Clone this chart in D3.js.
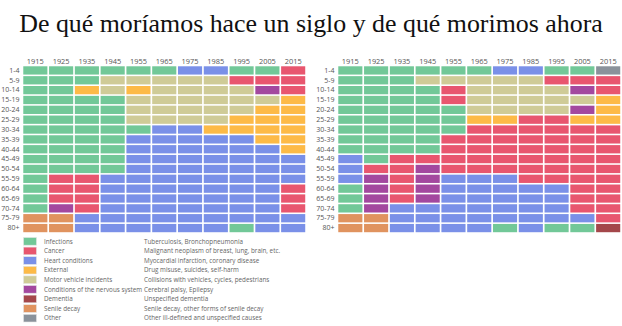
<!DOCTYPE html>
<html>
<head>
<meta charset="utf-8">
<script src="https://cdn.jsdelivr.net/npm/d3@7/dist/d3.min.js"></script>
<style>
  html, body { margin: 0; padding: 0; background: #fff; }
  svg { display: block; }
  .axis text { font-family: "Open Sans", sans-serif; fill: #555; }
  .axis path, .axis line { display: none; }
</style>
</head>
<body>
<svg id="chart" width="622" height="326"></svg>
<script>
// ---- DATA ----
const title = "De qué moríamos hace un siglo y de qué morimos ahora";
const years = ["1915","1925","1935","1945","1955","1965","1975","1985","1995","2005","2015"];
const ages = ["1-4","5-9","10-14","15-19","20-24","25-29","30-34","35-39","40-44","45-49","50-54","55-59","60-64","65-69","70-74","75-79","80+"];
const causeCodes = ["I","C","H","E","M","N","D","S","O"];
const causeNames = ["Infections","Cancer","Heart conditions","External","Motor vehicle incidents","Conditions of the nervous system","Dementia","Senile decay","Other"];
const causeDescriptions = ["Tuberculosis, Bronchopneumonia","Malignant neoplasm of breast, lung, brain, etc.","Myocardial infarction, coronary disease","Drug misuse, suicides, self-harm","Collisions with vehicles, cycles, pedestrians","Cerebral palsy, Epilepsy","Unspecified dementia","Senile decay, other forms of senile decay","Other ill-defined and unspecified causes"];
const causeColors = ["#72c898","#e8566f","#7a90e8","#fdba47","#cfcb97","#a3489f","#a4474a","#e0935f","#8a929b"];
// Leading cause per age group (rows) and decade (columns), one letter per year
const leftChart = [
  "IIIIIIHHIIC",
  "IIIMMMMMCCC",
  "IIEMEMMMMNC",
  "IIIIMMMMMME",
  "IIIIMMMMMEE",
  "IIIIMMMMEEE",
  "IIIIIHHEEEE",
  "IIIIHHHHHEE",
  "IIIIHHHHHHE",
  "IIIIHHHHHHH",
  "IIIIHHHHHHH",
  "ICCHHHHHHHH",
  "ICCHHHHHHHC",
  "ICCHHHHHHHC",
  "INCHHHHHHHC",
  "SSHHHHHHHHH",
  "SSHHHHHHIHH"
];
const rightChart = [
  "IIIIIIHHIIO",
  "IIIMMMMMCCC",
  "IIIICMMMMNC",
  "IIIICMMMMME",
  "IIIIIMMMMNE",
  "IIIIIEECCEE",
  "IIIIICCCCCC",
  "IIIICCCCCCC",
  "IIIICCCCCCC",
  "HICCCCCCCCC",
  "HCCNCCCCCCC",
  "HNCNHHHCCCC",
  "INCNHHHHHCC",
  "INCNHHHHHCC",
  "INHHHHHHHCC",
  "SSHHHHHHHHC",
  "SSHHHHIHIID"
];

// ---- DRAW ----
const svg = d3.select("#chart");
const color = d3.scaleOrdinal().domain(causeCodes).range(causeColors);

const t = svg.append("text")
  .attr("x", 311).attr("y", 32)
  .attr("text-anchor", "middle")
  .attr("font-family", "'Liberation Serif', serif")
  .attr("font-size", 26)
  .attr("fill", "#111")
  .text(title);
const tl = t.node().getComputedTextLength();
if (tl > 0) t.attr("font-size", 26 * 584 / tl);

function drawGrid(rows, x0, x1, y0, y1) {
  const g = svg.append("g");
  const x = d3.scaleBand().domain(years).range([x0, x1]).paddingInner(0.065).paddingOuter(0.03);
  const y = d3.scaleBand().domain(ages).range([y0, y1]).paddingInner(0.16).paddingOuter(0.08);
  const cells = [];
  rows.forEach((r, i) => r.split("").forEach((c, j) => cells.push({age: ages[i], year: years[j], cause: c})));
  g.selectAll("rect").data(cells).join("rect")
    .attr("x", d => x(d.year))
    .attr("y", d => y(d.age))
    .attr("width", x.bandwidth())
    .attr("height", y.bandwidth())
    .attr("fill", d => color(d.cause));
  g.append("g").attr("class", "axis")
    .attr("transform", `translate(0,${y0 - 2})`)
    .call(d3.axisTop(x).tickSize(0).tickPadding(0))
    .selectAll("text").attr("font-size", 7.4);
  g.append("g").attr("class", "axis")
    .attr("transform", `translate(${x0 - 2},0)`)
    .call(d3.axisLeft(y).tickSize(0).tickPadding(1))
    .selectAll("text").attr("font-size", 7);
}
drawGrid(leftChart, 22.5, 306, 65.5, 233);
drawGrid(rightChart, 337.5, 621, 65.5, 233);

// Legend
const ly = d3.scaleBand().domain(causeCodes).range([237.5, 322]).paddingInner(0.2);
const legend = svg.append("g");
const items = legend.selectAll("g").data(causeCodes).join("g")
  .attr("transform", d => `translate(0,${ly(d)})`);
items.append("rect")
  .attr("x", 23.5).attr("y", 0)
  .attr("width", 13).attr("height", ly.bandwidth())
  .attr("fill", d => color(d))
  .attr("stroke", "#e6e6e6").attr("stroke-width", 0.6);
items.append("text")
  .attr("x", 44).attr("y", ly.bandwidth() / 2)
  .attr("dy", "0.35em")
  .attr("font-family", "'Open Sans', sans-serif")
  .attr("font-size", 6.3).attr("fill", "#666")
  .text((d, i) => causeNames[i]);
items.append("text")
  .attr("x", 144).attr("y", ly.bandwidth() / 2)
  .attr("dy", "0.35em")
  .attr("font-family", "'Open Sans', sans-serif")
  .attr("font-size", 6.3).attr("fill", "#666")
  .text((d, i) => causeDescriptions[i]);
</script>
</body>
</html>
